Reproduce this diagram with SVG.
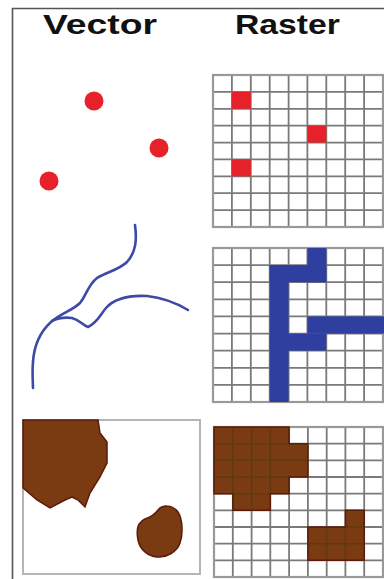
<svg xmlns="http://www.w3.org/2000/svg" width="384" height="579" viewBox="0 0 384 579">
<style>
.title{font-family:"Liberation Sans",Arial,sans-serif;font-weight:bold;font-size:28px;fill:#111}
.grid{fill:none;stroke:#7a7a7a;stroke-width:1.8}
.frame{fill:none;stroke:#999;stroke-width:2.2}
.red{fill:#e62129}
.blue{fill:#2f3f9f}
.bluel{fill:none;stroke:#3d4aa6;stroke-width:2.6;stroke-linecap:round;stroke-linejoin:round}
.brown{fill:#7a3b12;stroke:#5a1a0c;stroke-width:1.5}
.gridover{fill:none;stroke:#3a3a10;stroke-opacity:0.45;stroke-width:1.6}
</style>
<rect width="384" height="579" fill="#ffffff"/>
<g id="border">
<path d="M12.5,579 V8.5 H384" fill="none" stroke="#555" stroke-width="1.6"/>
</g>
<g id="titles">
<text class="title" x="43" y="34" textLength="114" lengthAdjust="spacingAndGlyphs">Vector</text>
<text class="title" x="235" y="34" textLength="105" lengthAdjust="spacingAndGlyphs">Raster</text>
</g>
<g id="vector-points">
<circle class="red" cx="94" cy="101" r="9.5"/>
<circle class="red" cx="159" cy="148" r="9.5"/>
<circle class="red" cx="49" cy="181" r="9.5"/>
</g>
<g id="raster-points">
<rect x="213" y="75" width="170" height="152" fill="#fff"/>
<path class="grid" d="M231.9,75V227M250.8,75V227M269.7,75V227M288.6,75V227M307.4,75V227M326.3,75V227M345.2,75V227M364.1,75V227M213,91.9H383M213,108.8H383M213,125.7H383M213,142.6H383M213,159.4H383M213,176.3H383M213,193.2H383M213,210.1H383"/>
<rect class="frame" x="213" y="75" width="170" height="152"/>
<rect class="red" x="231.9" y="91.9" width="18.9" height="16.9"/>
<rect class="red" x="307.4" y="125.7" width="18.9" height="16.9"/>
<rect class="red" x="231.9" y="159.4" width="18.9" height="16.9"/>
</g>
<g id="vector-lines">
<path class="bluel" d="M135,225 C137,240 136,252 127,262 C119,270 106,272 97,278 C88,285 86,296 80,303 C73,310 60,314 51,322 C40,332 34,346 33,362 C32,372 33,382 33,388"/>
<path class="bluel" d="M188,310 C178,304 166,298 147,296 C127,295 113,300 106,308 C100,315 98,322 88,327 C82,325 80,320 72,318 C64,317 58,318 52,321"/>
</g>
<g id="raster-lines">
<rect x="213" y="248" width="170" height="154" fill="#fff"/>
<path class="grid" d="M231.9,248V402M250.8,248V402M269.7,248V402M288.6,248V402M307.4,248V402M326.3,248V402M345.2,248V402M364.1,248V402M213,265.1H383M213,282.2H383M213,299.3H383M213,316.4H383M213,333.6H383M213,350.7H383M213,367.8H383M213,384.9H383"/>
<rect class="frame" x="213" y="248" width="170" height="154"/>
<rect class="blue" x="269.7" y="265.1" width="18.9" height="136.9"/>
<rect class="blue" x="269.7" y="265.1" width="56.6" height="17.1"/>
<rect class="blue" x="307.4" y="248" width="18.9" height="34.2"/>
<rect class="blue" x="307.4" y="316.4" width="76.6" height="17.2"/>
<rect class="blue" x="269.7" y="333.6" width="56.6" height="17.1"/>
</g>
<g id="vector-polygons">
<rect x="23" y="420" width="177" height="154" fill="#fff" stroke="#b5b5b5" stroke-width="2"/>
<path class="brown" d="M23,420 L98,420 L100,433 L107,442 L107,463 L100,477 L90,493 L85,507 L78,500 L72,497 L65,500 L50,508 L37,500 L23,488 Z"/>
<path class="brown" d="M158,510 C162,505 172,504 178,512 C183,520 183,535 180,543 C177,552 166,558 157,557 C148,556 140,550 138,540 C136,530 138,522 145,519 C152,517 155,514 158,510 Z"/>
</g>
<g id="raster-polygons">
<rect x="214" y="427" width="169" height="150" fill="#fff"/>
<path class="grid" d="M232.8,427V577M251.6,427V577M270.3,427V577M289.1,427V577M307.9,427V577M326.7,427V577M345.4,427V577M364.2,427V577M214,443.7H383M214,460.3H383M214,477H383M214,493.7H383M214,510.3H383M214,527H383M214,543.7H383M214,560.3H383"/>
<rect class="frame" x="214" y="427" width="169" height="150"/>
<path class="brown" d="M214,427 H289.1 V443.7 H307.9 V477 H289.1 V493.7 H270.3 V510.3 H232.8 V493.7 H214 Z"/>
<path class="brown" d="M307.9,527 H345.4 V510.3 H364.2 V560.3 H307.9 Z"/>
<path class="gridover" d="M232.8,427V510M251.6,427V510M270.3,427V494M214,443.7H307.9M214,460.3H307.9M214,477H289M233,493.7H270M326.7,527V560M345.4,527V560M308,543.7H364M345.4,527H364"/>
</g>
</svg>
